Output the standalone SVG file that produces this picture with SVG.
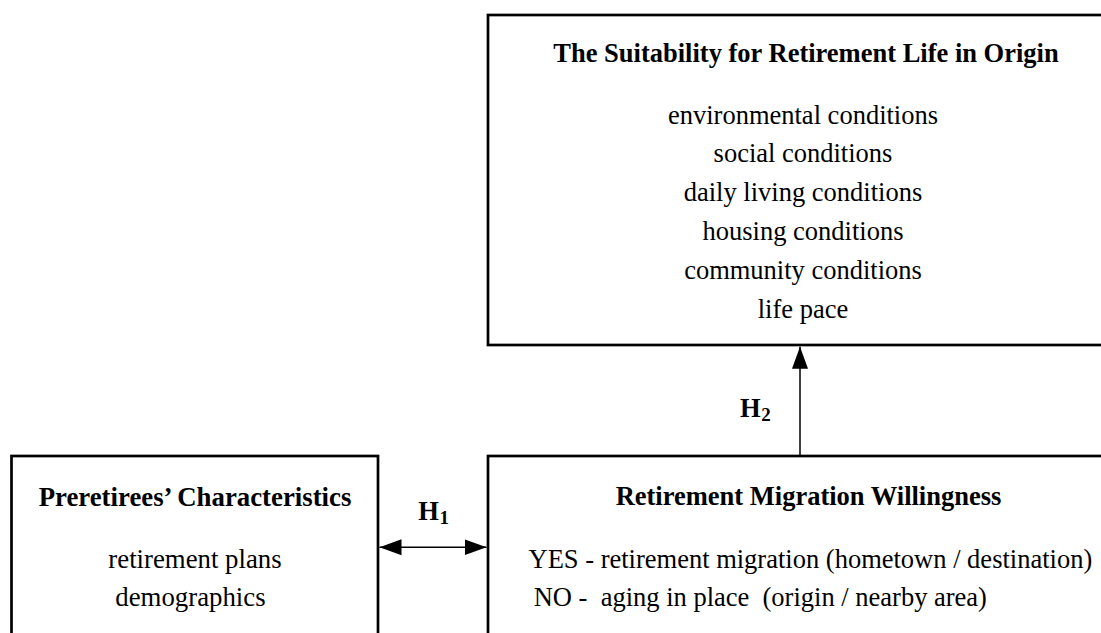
<svg xmlns="http://www.w3.org/2000/svg" width="1101" height="633" viewBox="0 0 1101 633">
<style>
.box{fill:#fff;stroke:#000;stroke-width:2.7}
.t{font-family:"Liberation Serif","Times New Roman",serif;fill:#000;text-anchor:middle}
.s{font-family:"Liberation Serif","Times New Roman",serif;fill:#000;font-size:26.5px}
.h{font-size:26.5px;font-weight:bold}
.b{font-size:26.5px}
.lbl{font-family:"Liberation Serif","Times New Roman",serif;font-weight:bold;font-size:26.5px;fill:#000}
.sub{font-size:19px}
.conn{stroke:#000;stroke-width:1.5;fill:none}
</style>
<defs>
<marker id="ah" markerUnits="userSpaceOnUse" markerWidth="24" markerHeight="18" refX="22" refY="8" orient="auto-start-reverse" viewBox="0 0 24 16">
<path d="M0,0 L22,8 L0,16 Z" fill="#000"/>
</marker>
</defs>
<rect width="1101" height="633" fill="#fff"/>
<g id="connectors">
<line class="conn" x1="379.5" y1="547.3" x2="486.5" y2="547.3" marker-start="url(#ah)" marker-end="url(#ah)"/>
<line class="conn" x1="800" y1="456" x2="800" y2="346.7" marker-end="url(#ah)"/>
</g>
<g id="suitability">
<rect class="box" x="488" y="15" width="640" height="330"/>
<text class="t h" x="806" y="62">The Suitability for Retirement Life in Origin</text>
<text class="t b" x="803" y="123.5">environmental conditions</text>
<text class="t b" x="803" y="162.3">social conditions</text>
<text class="t b" x="803" y="201.1">daily living conditions</text>
<text class="t b" x="803" y="239.9">housing conditions</text>
<text class="t b" x="803" y="278.7">community conditions</text>
<text class="t b" x="803" y="317.5">life pace</text>
</g>
<g id="preretirees">
<rect class="box" x="11.5" y="456" width="366.5" height="200"/>
<text class="t h" x="195" y="505.7" style="font-size:26.8px">Preretirees’ Characteristics</text>
<text class="t b" x="195" y="567.7" style="font-size:26.8px">retirement plans</text>
<text class="t b" x="190.5" y="605.5" style="font-size:26.8px">demographics</text>
</g>
<g id="willingness">
<rect class="box" x="488" y="456" width="640" height="200"/>
<text class="t h" x="808.5" y="504.5">Retirement Migration Willingness</text>
<text class="s" x="528.5" y="567.7">YES - retirement migration (hometown / destination)</text>
<text class="s" x="533.7" y="605.7" xml:space="preserve">NO -  aging in place  (origin / nearby area)</text>
</g>
<g id="labels">
<text class="lbl" x="418.3" y="520">H<tspan class="sub" dx="0.5" dy="4">1</tspan></text>
<text class="lbl" x="740" y="417">H<tspan class="sub" dx="0.5" dy="4">2</tspan></text>
</g>
</svg>
